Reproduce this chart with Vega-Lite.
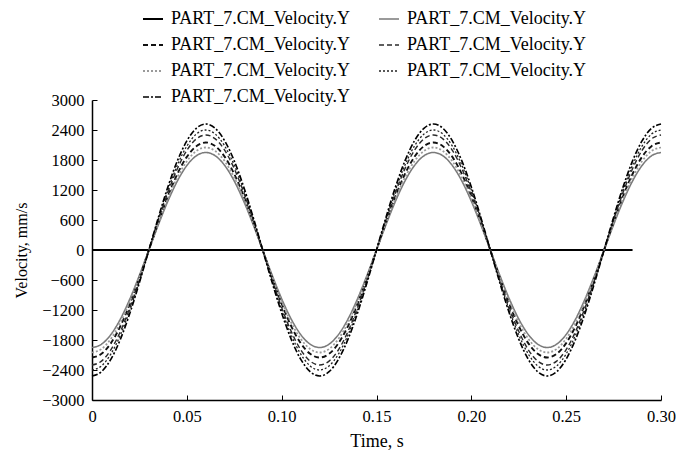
{
  "$schema": "https://vega.github.io/schema/vega-lite/v6.json",
  "width": 569,
  "height": 300,
  "autosize": {"type": "none"},
  "padding": {"left": 92, "top": 100, "right": 19, "bottom": 52},
  "background": "white",
  "config": {
    "view": {"stroke": null},
    "font": "Liberation Serif",
    "axis": {"grid": false, "domainColor": "black", "tickColor": "black", "labelColor": "black", "titleColor": "black", "labelFont": "Liberation Serif", "titleFont": "Liberation Serif", "labelFontSize": 16.5, "titleFontSize": 16, "titleFontWeight": "normal", "tickSize": -5, "labelPadding": 13, "domainWidth": 1.5, "tickWidth": 1}
  },
  "data": {"values": [
    {"t":0,"z":0,"a":-1950,"b":-2150,"c":-2300,"d":-2050,"e":-2400,"f":-2520},
    {"t":0.005,"z":0,"a":-1884,"b":-2077,"c":-2222,"d":-1980,"e":-2318,"f":-2434},
    {"t":0.01,"z":0,"a":-1689,"b":-1862,"c":-1992,"d":-1775,"e":-2078,"f":-2182},
    {"t":0.015,"z":0,"a":-1379,"b":-1520,"c":-1626,"d":-1450,"e":-1697,"f":-1782},
    {"t":0.02,"z":0,"a":-975,"b":-1075,"c":-1150,"d":-1025,"e":-1200,"f":-1260},
    {"t":0.025,"z":0,"a":-505,"b":-556,"c":-595,"d":-531,"e":-621,"f":-652},
    {"t":0.03,"z":0,"a":0,"b":0,"c":0,"d":0,"e":0,"f":0},
    {"t":0.035,"z":0,"a":505,"b":556,"c":595,"d":531,"e":621,"f":652},
    {"t":0.04,"z":0,"a":975,"b":1075,"c":1150,"d":1025,"e":1200,"f":1260},
    {"t":0.045,"z":0,"a":1379,"b":1520,"c":1626,"d":1450,"e":1697,"f":1782},
    {"t":0.05,"z":0,"a":1689,"b":1862,"c":1992,"d":1775,"e":2078,"f":2182},
    {"t":0.055,"z":0,"a":1884,"b":2077,"c":2222,"d":1980,"e":2318,"f":2434},
    {"t":0.06,"z":0,"a":1950,"b":2150,"c":2300,"d":2050,"e":2400,"f":2520},
    {"t":0.065,"z":0,"a":1884,"b":2077,"c":2222,"d":1980,"e":2318,"f":2434},
    {"t":0.07,"z":0,"a":1689,"b":1862,"c":1992,"d":1775,"e":2078,"f":2182},
    {"t":0.075,"z":0,"a":1379,"b":1520,"c":1626,"d":1450,"e":1697,"f":1782},
    {"t":0.08,"z":0,"a":975,"b":1075,"c":1150,"d":1025,"e":1200,"f":1260},
    {"t":0.085,"z":0,"a":505,"b":556,"c":595,"d":531,"e":621,"f":652},
    {"t":0.09,"z":0,"a":0,"b":0,"c":0,"d":0,"e":0,"f":0},
    {"t":0.095,"z":0,"a":-505,"b":-556,"c":-595,"d":-531,"e":-621,"f":-652},
    {"t":0.1,"z":0,"a":-975,"b":-1075,"c":-1150,"d":-1025,"e":-1200,"f":-1260},
    {"t":0.105,"z":0,"a":-1379,"b":-1520,"c":-1626,"d":-1450,"e":-1697,"f":-1782},
    {"t":0.11,"z":0,"a":-1689,"b":-1862,"c":-1992,"d":-1775,"e":-2078,"f":-2182},
    {"t":0.115,"z":0,"a":-1884,"b":-2077,"c":-2222,"d":-1980,"e":-2318,"f":-2434},
    {"t":0.12,"z":0,"a":-1950,"b":-2150,"c":-2300,"d":-2050,"e":-2400,"f":-2520},
    {"t":0.125,"z":0,"a":-1884,"b":-2077,"c":-2222,"d":-1980,"e":-2318,"f":-2434},
    {"t":0.13,"z":0,"a":-1689,"b":-1862,"c":-1992,"d":-1775,"e":-2078,"f":-2182},
    {"t":0.135,"z":0,"a":-1379,"b":-1520,"c":-1626,"d":-1450,"e":-1697,"f":-1782},
    {"t":0.14,"z":0,"a":-975,"b":-1075,"c":-1150,"d":-1025,"e":-1200,"f":-1260},
    {"t":0.145,"z":0,"a":-505,"b":-556,"c":-595,"d":-531,"e":-621,"f":-652},
    {"t":0.15,"z":0,"a":0,"b":0,"c":0,"d":0,"e":0,"f":0},
    {"t":0.155,"z":0,"a":505,"b":556,"c":595,"d":531,"e":621,"f":652},
    {"t":0.16,"z":0,"a":975,"b":1075,"c":1150,"d":1025,"e":1200,"f":1260},
    {"t":0.165,"z":0,"a":1379,"b":1520,"c":1626,"d":1450,"e":1697,"f":1782},
    {"t":0.17,"z":0,"a":1689,"b":1862,"c":1992,"d":1775,"e":2078,"f":2182},
    {"t":0.175,"z":0,"a":1884,"b":2077,"c":2222,"d":1980,"e":2318,"f":2434},
    {"t":0.18,"z":0,"a":1950,"b":2150,"c":2300,"d":2050,"e":2400,"f":2520},
    {"t":0.185,"z":0,"a":1884,"b":2077,"c":2222,"d":1980,"e":2318,"f":2434},
    {"t":0.19,"z":0,"a":1689,"b":1862,"c":1992,"d":1775,"e":2078,"f":2182},
    {"t":0.195,"z":0,"a":1379,"b":1520,"c":1626,"d":1450,"e":1697,"f":1782},
    {"t":0.2,"z":0,"a":975,"b":1075,"c":1150,"d":1025,"e":1200,"f":1260},
    {"t":0.205,"z":0,"a":505,"b":556,"c":595,"d":531,"e":621,"f":652},
    {"t":0.21,"z":0,"a":0,"b":0,"c":0,"d":0,"e":0,"f":0},
    {"t":0.215,"z":0,"a":-505,"b":-556,"c":-595,"d":-531,"e":-621,"f":-652},
    {"t":0.22,"z":0,"a":-975,"b":-1075,"c":-1150,"d":-1025,"e":-1200,"f":-1260},
    {"t":0.225,"z":0,"a":-1379,"b":-1520,"c":-1626,"d":-1450,"e":-1697,"f":-1782},
    {"t":0.23,"z":0,"a":-1689,"b":-1862,"c":-1992,"d":-1775,"e":-2078,"f":-2182},
    {"t":0.235,"z":0,"a":-1884,"b":-2077,"c":-2222,"d":-1980,"e":-2318,"f":-2434},
    {"t":0.24,"z":0,"a":-1950,"b":-2150,"c":-2300,"d":-2050,"e":-2400,"f":-2520},
    {"t":0.245,"z":0,"a":-1884,"b":-2077,"c":-2222,"d":-1980,"e":-2318,"f":-2434},
    {"t":0.25,"z":0,"a":-1689,"b":-1862,"c":-1992,"d":-1775,"e":-2078,"f":-2182},
    {"t":0.255,"z":0,"a":-1379,"b":-1520,"c":-1626,"d":-1450,"e":-1697,"f":-1782},
    {"t":0.26,"z":0,"a":-975,"b":-1075,"c":-1150,"d":-1025,"e":-1200,"f":-1260},
    {"t":0.265,"z":0,"a":-505,"b":-556,"c":-595,"d":-531,"e":-621,"f":-652},
    {"t":0.27,"z":0,"a":0,"b":0,"c":0,"d":0,"e":0,"f":0},
    {"t":0.275,"z":0,"a":505,"b":556,"c":595,"d":531,"e":621,"f":652},
    {"t":0.28,"z":0,"a":975,"b":1075,"c":1150,"d":1025,"e":1200,"f":1260},
    {"t":0.285,"z":0,"a":1379,"b":1520,"c":1626,"d":1450,"e":1697,"f":1782},
    {"t":0.29,"a":1689,"b":1862,"c":1992,"d":1775,"e":2078,"f":2182},
    {"t":0.295,"a":1884,"b":2077,"c":2222,"d":1980,"e":2318,"f":2434},
    {"t":0.3,"a":1950,"b":2150,"c":2300,"d":2050,"e":2400,"f":2520}
  ]},
  "transform": [
    {"fold": ["z", "a", "b", "c", "d", "e", "f"], "as": ["series", "v"]},
    {"filter": "isValid(datum.v)"}
  ],
  "mark": {"type": "line", "interpolate": "monotone", "clip": false},
  "encoding": {
    "x": {"field": "t", "type": "quantitative", "scale": {"domain": [0, 0.3], "nice": false}, "title": "Time, s",
      "axis": {"values": [0, 0.05, 0.1, 0.15, 0.2, 0.25, 0.3], "labelExpr": "datum.value == 0 ? '0' : format(datum.value, '.2f')", "titlePadding": 8, "titleFontSize": 18, "labelFlush": false}},
    "y": {"field": "v", "type": "quantitative", "scale": {"domain": [-3000, 3000], "nice": false}, "title": "Velocity, mm/s",
      "axis": {"values": [-3000, -2400, -1800, -1200, -600, 0, 600, 1200, 1800, 2400, 3000], "format": "d", "titlePadding": 12, "labelFlush": false}},
    "color": {"field": "series", "type": "nominal",
      "scale": {"domain": ["z", "b", "d", "f", "a", "c", "e"], "range": ["#000000", "#111111", "#9a9a9a", "#000000", "#7a7a7a", "#2a2a2a", "#222222"]},
      "legend": {"title": null, "orient": "none", "legendX": 50, "legendY": -92, "columns": 2, "columnPadding": 24, "rowPadding": 6, "symbolType": "stroke", "symbolSize": 400, "labelFont": "Liberation Serif", "labelFontSize": 18, "labelLimit": 400, "labelColor": "black", "labelOffset": 7, "labelExpr": "'PART_7.CM_Velocity.Y'"}},
    "strokeDash": {"field": "series", "type": "nominal",
      "scale": {"domain": ["z", "b", "d", "f", "a", "c", "e"], "range": [[1, 0], [5, 3], [2, 2], [6, 2, 2, 2], [1, 0], [5, 3], [2, 2]]},
      "legend": {"title": null}},
    "strokeWidth": {"field": "series", "type": "nominal",
      "scale": {"domain": ["z", "b", "d", "f", "a", "c", "e"], "range": [2, 1.3, 1, 1.8, 1, 1.3, 1.3]},
      "legend": {"title": null}}
  }
}
